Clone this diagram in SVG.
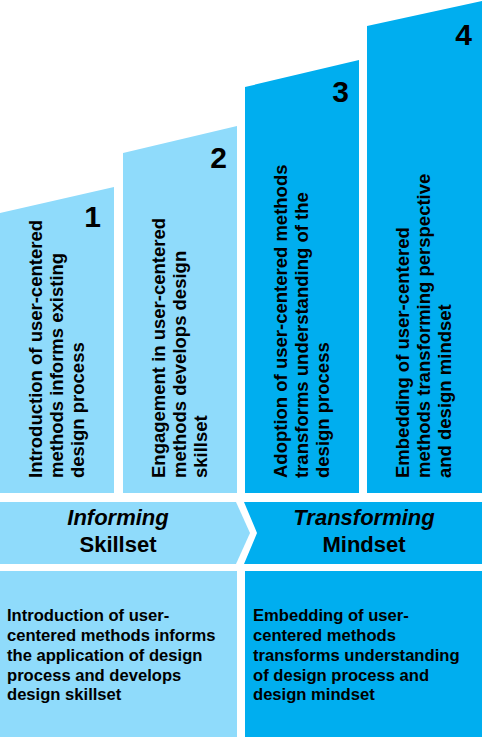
<svg xmlns="http://www.w3.org/2000/svg" width="482" height="737" viewBox="0 0 482 737">
<style>
.light{fill:#8FDBFB}
.dark{fill:#00AEEF}
text{font-family:"Liberation Sans",Arial,sans-serif;font-weight:bold;fill:#000}
.num{font-size:30px;text-anchor:end}
.vt{font-size:18.5px}
.band{font-size:22px;text-anchor:middle}
.it{font-style:italic}
.body{font-size:16.6px}
</style>
<rect width="482" height="737" fill="#FFFFFF"/>
<g id="step1">
<polygon class="light" points="0,213 114,187 114,493 0,493"/>
<text class="num" x="101" y="227">1</text>
<text class="vt" transform="translate(42,478) rotate(-90)">Introduction of user-centered</text>
<text class="vt" transform="translate(63,478) rotate(-90)">methods informs existing</text>
<text class="vt" transform="translate(84,478) rotate(-90)">design process</text>
</g>
<g id="step2">
<polygon class="light" points="123,153 237,126 237,493 123,493"/>
<text class="num" x="227" y="168">2</text>
<text class="vt" transform="translate(165,478) rotate(-90)">Engagement in user-centered</text>
<text class="vt" transform="translate(186,478) rotate(-90)">methods develops design</text>
<text class="vt" transform="translate(207,478) rotate(-90)">skillset</text>
</g>
<g id="step3">
<polygon class="dark" points="245,87 359,60 359,493 245,493"/>
<text class="num" x="349" y="102">3</text>
<text class="vt" transform="translate(287,478) rotate(-90)">Adoption of user-centered methods</text>
<text class="vt" transform="translate(308,478) rotate(-90)">transforms understanding of the</text>
<text class="vt" transform="translate(329,478) rotate(-90)">design process</text>
</g>
<g id="step4">
<polygon class="dark" points="367,26 482,1 482,493 367,493"/>
<text class="num" x="472" y="45">4</text>
<text class="vt" transform="translate(409,478) rotate(-90)">Embedding of user-centered</text>
<text class="vt" transform="translate(430,478) rotate(-90)">methods transforming perspective</text>
<text class="vt" transform="translate(451,478) rotate(-90)">and design mindset</text>
</g>
<g id="informing">
<polygon class="light" points="0,502 236,502 250,533 236,564 0,564"/>
<text class="band it" x="118" y="525">Informing</text>
<text class="band" x="118" y="552">Skillset</text>
</g>
<g id="transforming">
<polygon class="dark" points="244,502 482,502 482,564 244,564 257,533"/>
<text class="band it" x="364" y="525">Transforming</text>
<text class="band" x="364" y="552">Mindset</text>
</g>
<g id="connectors"></g>
<g id="skillset-desc">
<rect class="light" x="0" y="571" width="237" height="166"/>
<text class="body" x="7"><tspan x="7" y="621">Introduction of user-</tspan><tspan x="7" y="641">centered methods informs</tspan><tspan x="7" y="661">the application of design</tspan><tspan x="7" y="681">process and develops</tspan><tspan x="7" y="700">design skillset</tspan></text>
</g>
<g id="mindset-desc">
<rect class="dark" x="245" y="571" width="237" height="166"/>
<text class="body" x="253"><tspan x="253" y="621">Embedding of user-</tspan><tspan x="253" y="641">centered methods</tspan><tspan x="253" y="661">transforms understanding</tspan><tspan x="253" y="681">of design process and</tspan><tspan x="253" y="700">design mindset</tspan></text>
</g>
</svg>
